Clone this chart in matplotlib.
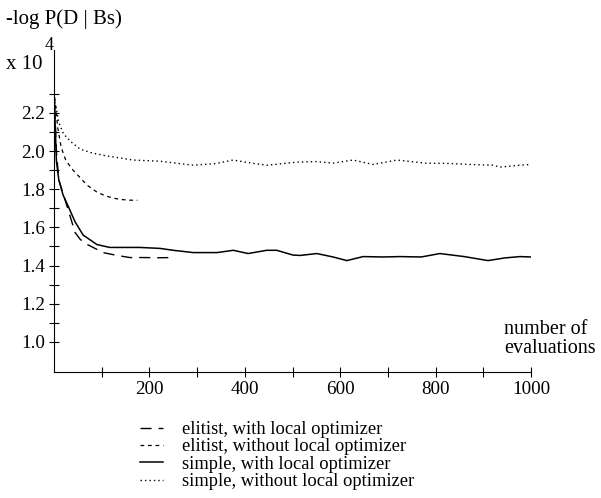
import matplotlib
matplotlib.use('Agg')
import matplotlib.pyplot as plt
import numpy as np

plt.rcParams['font.family'] = ['Liberation Serif', 'DejaVu Serif']

# elitist GA, with local optimizer
x_el_loc = [0, 5, 10, 20, 30, 44, 55, 70, 82, 103, 132, 159, 187, 220, 253]
y_el_loc = [2.32, 2.0, 1.85, 1.77, 1.69, 1.574, 1.537, 1.51, 1.495, 1.468, 1.453, 1.442, 1.442, 1.441, 1.442]

# elitist GA, without local optimizer
x_el_noloc = [0, 8, 15, 25, 40, 55, 70, 90, 110, 135, 155, 175]
y_el_noloc = [2.32, 2.12, 2.02, 1.95, 1.90, 1.86, 1.82, 1.785, 1.763, 1.748, 1.743, 1.742]

# simple GA, with local optimizer
x_si_loc = [0, 5, 10, 19, 30, 44, 61, 90, 117, 180, 222, 250, 292, 342, 376, 407, 446,
            467, 501, 516, 551, 585, 614, 648, 690, 725, 770, 809, 860, 910, 945, 977, 1000]
y_si_loc = [2.32, 1.95, 1.85, 1.77, 1.71, 1.63, 1.56, 1.51, 1.495, 1.495, 1.49, 1.48, 1.468,
            1.468, 1.48, 1.463, 1.48, 1.48, 1.455, 1.453, 1.463, 1.445, 1.426, 1.447, 1.445,
            1.447, 1.445, 1.463, 1.447, 1.426, 1.44, 1.447, 1.445]

# simple GA, without local optimizer
x_si_noloc = [0, 5, 10, 20, 35, 55, 80, 110, 166, 222, 292, 340, 375, 420, 446, 509, 550,
              585, 627, 669, 719, 778, 830, 872, 920, 935, 977, 1000]
y_si_noloc = [2.28, 2.22, 2.15, 2.09, 2.05, 2.01, 1.99, 1.975, 1.953, 1.947, 1.926, 1.935,
              1.953, 1.935, 1.926, 1.942, 1.945, 1.937, 1.953, 1.93, 1.953, 1.937, 1.935,
              1.93, 1.926, 1.916, 1.926, 1.93]

labels = ['elitist, with local optimizer', 'elitist, without local optimizer',
          'simple, with local optimizer', 'simple, without local optimizer']

fig = plt.figure(figsize=(6.01, 4.98), dpi=100)
ax = fig.add_axes([54 / 601, 1 - 372 / 498, 477 / 601, 322 / 498])

ax.plot(x_el_loc, y_el_loc, color='black', lw=1.0, dashes=(8, 5), label=labels[0])
ax.plot(x_el_noloc, y_el_noloc, color='black', lw=0.9, dashes=(3, 3), label=labels[1])
ax.plot(x_si_loc, y_si_loc, color='black', lw=1.1, label=labels[2])
ax.plot(x_si_noloc, y_si_noloc, color='black', lw=1.0, dashes=(1, 2.2), label=labels[3])

ax.set_xlim(0, 1000)
ax.set_ylim(0.842, 2.53)
ax.spines['top'].set_visible(False)
ax.spines['right'].set_visible(False)

ax.set_xticks(np.arange(200, 1001, 200))
ax.set_xticks(np.arange(100, 1001, 200), minor=True)
ax.set_yticks(np.arange(1.0, 2.21, 0.2))
ax.set_yticklabels(['%.1f' % v for v in np.arange(1.0, 2.21, 0.2)])
ax.set_yticks(np.arange(1.1, 2.31, 0.2), minor=True)
ax.tick_params(which='both', direction='inout', length=7, width=0.8, labelsize=13.7)
ax.tick_params(axis='y', pad=3)
ax.tick_params(axis='x', pad=3)

fig.text(6 / 601, 1 - 19 / 498, '-log P(D | Bs)', fontsize=15, va='center', ha='left')
fig.text(6 / 601, 1 - 64 / 498, 'x 10', fontsize=15, va='center', ha='left')
fig.text(45 / 601, 1 - 45 / 498, '4', fontsize=13, va='center', ha='left')
fig.text(504 / 601, 1 - 339 / 498, 'number of\nevaluations', fontsize=14.5,
         va='center', ha='left', linespacing=0.95)

fig.legend(loc='upper left', bbox_to_anchor=(140 / 601, 1 - 421 / 498), frameon=False,
           fontsize=13.3, handlelength=1.25, handletextpad=1.05, labelspacing=0.02,
           borderaxespad=0, borderpad=0)

fig.savefig('out.png', dpi=100)
